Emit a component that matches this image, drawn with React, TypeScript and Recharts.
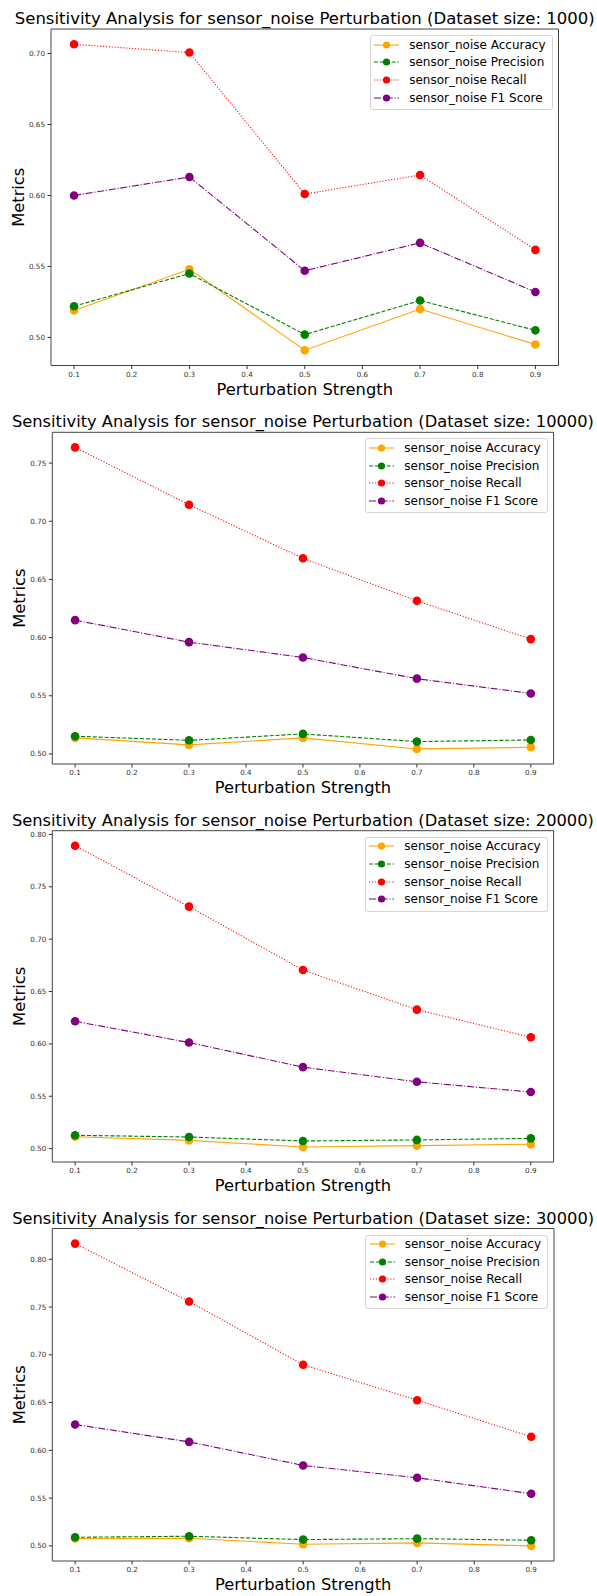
import { LineChart, Line, XAxis, YAxis, Legend, ReferenceArea } from "recharts"

const FONT = "'DejaVu Sans', sans-serif"
const PAGE_WIDTH = 597
const PANEL_HEIGHT = 400
const X_AXIS_HEIGHT = 30

const strengths = [0.1, 0.3, 0.5, 0.7, 0.9]
const xTicks = [0.1, 0.2, 0.3, 0.4, 0.5, 0.6, 0.7, 0.8, 0.9]

// Dataset size 1000
const accuracy1000 = [0.519, 0.548, 0.491, 0.52, 0.495]
const precision1000 = [0.522, 0.545, 0.502, 0.526, 0.505]
const recall1000 = [0.7065, 0.7007, 0.601, 0.6144, 0.5617]
const f1Score1000 = [0.6, 0.613, 0.547, 0.5666, 0.532]
const yTicks1000 = [0.5, 0.55, 0.6, 0.65, 0.7]

// Dataset size 10000
const accuracy10000 = [0.5138, 0.5078, 0.5138, 0.5043, 0.5057]
const precision10000 = [0.5152, 0.5117, 0.5172, 0.5106, 0.512]
const recall10000 = [0.7635, 0.7142, 0.6682, 0.6316, 0.5987]
const f1Score10000 = [0.615, 0.5961, 0.5829, 0.5647, 0.552]
const yTicks10000 = [0.5, 0.55, 0.6, 0.65, 0.7, 0.75]

// Dataset size 20000
const accuracy20000 = [0.5114, 0.5079, 0.5016, 0.5029, 0.5041]
const precision20000 = [0.5127, 0.5111, 0.5073, 0.5083, 0.5098]
const recall20000 = [0.7892, 0.7311, 0.6705, 0.6327, 0.6063]
const f1Score20000 = [0.6216, 0.6013, 0.5778, 0.5638, 0.554]
const yTicks20000 = [0.5, 0.55, 0.6, 0.65, 0.7, 0.75, 0.8]

// Dataset size 30000
const accuracy30000 = [0.5077, 0.508, 0.5017, 0.5031, 0.5]
const precision30000 = [0.509, 0.5101, 0.5066, 0.5076, 0.5059]
const recall30000 = [0.8164, 0.7558, 0.6896, 0.6525, 0.6142]
const f1Score30000 = [0.627, 0.6089, 0.5842, 0.5713, 0.5546]
const yTicks30000 = [0.5, 0.55, 0.6, 0.65, 0.7, 0.75, 0.8]

const series = [
  { key: "accuracy", name: "sensor_noise Accuracy", color: "orange", dash: undefined },
  { key: "precision", name: "sensor_noise Precision", color: "green", dash: "4.1 1.8" },
  { key: "recall", name: "sensor_noise Recall", color: "red", dash: "1.1 1.8" },
  { key: "f1", name: "sensor_noise F1 Score", color: "purple", dash: "7 1.8 1.1 1.8" },
]

const panels = [
  {
    size: "1000", accuracy: accuracy1000, precision: precision1000, recall: recall1000, f1: f1Score1000,
    yTicks: yTicks1000, top: 0, plotTop: 29, plotBottom: 365.5, plotLeft: 51, plotRight: 558.5,
    titleSize: 16.4, titleLength: 580,
  },
  {
    size: "10000", accuracy: accuracy10000, precision: precision10000, recall: recall10000, f1: f1Score10000,
    yTicks: yTicks10000, top: 400, plotTop: 432.3, plotBottom: 764, plotLeft: 52.3, plotRight: 553.6,
    titleSize: 16.1, titleLength: 582,
  },
  {
    size: "20000", accuracy: accuracy20000, precision: precision20000, recall: recall20000, f1: f1Score20000,
    yTicks: yTicks20000, top: 800, plotTop: 830.7, plotBottom: 1162, plotLeft: 52.3, plotRight: 553.6,
    titleSize: 16.1, titleLength: 582,
  },
  {
    size: "30000", accuracy: accuracy30000, precision: precision30000, recall: recall30000, f1: f1Score30000,
    yTicks: yTicks30000, top: 1196, plotTop: 1228.5, plotBottom: 1561, plotLeft: 52.3, plotRight: 554,
    titleSize: 16.1, titleLength: 582,
  },
]

type Panel = (typeof panels)[number]

function renderLegend() {
  return (
    <div
      style={{
        border: "1px solid #d4d4d4",
        borderRadius: 3,
        background: "rgba(255,255,255,0.85)",
        padding: "0 6px 2.5px 3.5px",
        fontFamily: FONT,
        fontSize: 12,
        color: "#000",
        lineHeight: 1,
      }}
    >
      {series.map((s) => (
        <div key={s.key} style={{ display: "flex", alignItems: "center", height: 17.6, whiteSpace: "nowrap" }}>
          <svg width={25} height={10} style={{ marginRight: 10, flexShrink: 0 }}>
            <line x1={0} y1={5} x2={25} y2={5} stroke={s.color} strokeWidth={1.1} strokeDasharray={s.dash} />
            <circle cx={12.5} cy={5} r={3.6} fill={s.color} />
          </svg>
          <span>{s.name}</span>
        </div>
      ))}
    </div>
  )
}

function SensitivityPanel({ panel }: { panel: Panel }) {
  const rows = strengths.map((strength, i) => ({
    strength,
    accuracy: panel.accuracy[i],
    precision: panel.precision[i],
    recall: panel.recall[i],
    f1: panel.f1[i],
  }))

  // matplotlib-style 5% padding around the data range
  const all = [...panel.accuracy, ...panel.precision, ...panel.recall, ...panel.f1]
  const lo = Math.min(...all)
  const hi = Math.max(...all)
  const pad = (hi - lo) * 0.05
  const yDomain = [lo - pad, hi + pad]

  const margin = {
    top: panel.plotTop - panel.top,
    right: PAGE_WIDTH - panel.plotRight,
    bottom: panel.top + PANEL_HEIGHT - panel.plotBottom - X_AXIS_HEIGHT,
    left: 0,
  }
  const plotCenterX = (panel.plotLeft + panel.plotRight) / 2
  const plotCenterY = (panel.plotTop + panel.plotBottom) / 2 - panel.top
  const titleY = panel.plotTop - panel.top - 5
  const metricsX = panel.plotLeft - 27

  return (
    <div style={{ position: "absolute", left: 0, top: panel.top, width: PAGE_WIDTH, height: PANEL_HEIGHT }}>
      <LineChart width={PAGE_WIDTH} height={PANEL_HEIGHT} data={rows} margin={margin}>
        <XAxis
          type="number"
          dataKey="strength"
          domain={[0.06, 0.94]}
          ticks={xTicks}
          allowDataOverflow
          height={X_AXIS_HEIGHT}
          tickFormatter={(v: number) => v.toFixed(1)}
          tick={{ fontSize: 7.2, fill: "#333", fontFamily: FONT }}
          tickLine={{ stroke: "#333" }}
          tickSize={3.5}
          tickMargin={2.5}
          axisLine={false}
          label={{ value: "Perturbation Strength", position: "insideBottom", offset: 1, fontSize: 16.3, fill: "#000", fontFamily: FONT }}
        />
        <YAxis
          type="number"
          domain={yDomain}
          ticks={panel.yTicks}
          allowDataOverflow
          width={panel.plotLeft}
          tickFormatter={(v: number) => v.toFixed(2)}
          tick={{ fontSize: 7.2, fill: "#333", fontFamily: FONT }}
          tickLine={{ stroke: "#333" }}
          tickSize={3.5}
          tickMargin={2.5}
          axisLine={false}
        />
        <ReferenceArea x1={0.06} x2={0.94} y1={yDomain[0]} y2={yDomain[1]} fill="none" stroke="#444" strokeWidth={1} ifOverflow="visible" />
        {series.map((s) => (
          <Line
            key={s.key}
            type="linear"
            dataKey={s.key}
            name={s.name}
            stroke={s.color}
            strokeWidth={1.1}
            strokeDasharray={s.dash}
            dot={{ r: 4.3, fill: s.color, stroke: s.color, strokeWidth: 0 }}
            activeDot={false}
            isAnimationActive={false}
          />
        ))}
        <Legend
          layout="vertical"
          align="center"
          verticalAlign="middle"
          content={renderLegend}
          wrapperStyle={{
            top: panel.plotTop - panel.top + 6,
            right: PAGE_WIDTH - panel.plotRight + 6,
            left: "auto",
            bottom: "auto",
            width: "auto",
            height: "auto",
          }}
        />
        <text
          x={plotCenterX}
          y={titleY}
          textAnchor="middle"
          fontSize={panel.titleSize}
          fontFamily={FONT}
          fill="#000"
          textLength={panel.titleLength}
          lengthAdjust="spacingAndGlyphs"
        >
          {`Sensitivity Analysis for sensor_noise Perturbation (Dataset size: ${panel.size})`}
        </text>
        <text
          x={metricsX}
          y={plotCenterY}
          transform={`rotate(-90 ${metricsX} ${plotCenterY})`}
          textAnchor="middle"
          fontSize={16.3}
          fontFamily={FONT}
          fill="#000"
        >
          Metrics
        </text>
      </LineChart>
    </div>
  )
}

export default function App() {
  return (
    <div style={{ position: "absolute", left: 0, top: 0, width: PAGE_WIDTH, height: 1596, background: "#fff" }}>
      {panels.map((p) => (
        <SensitivityPanel key={p.size} panel={p} />
      ))}
    </div>
  )
}
